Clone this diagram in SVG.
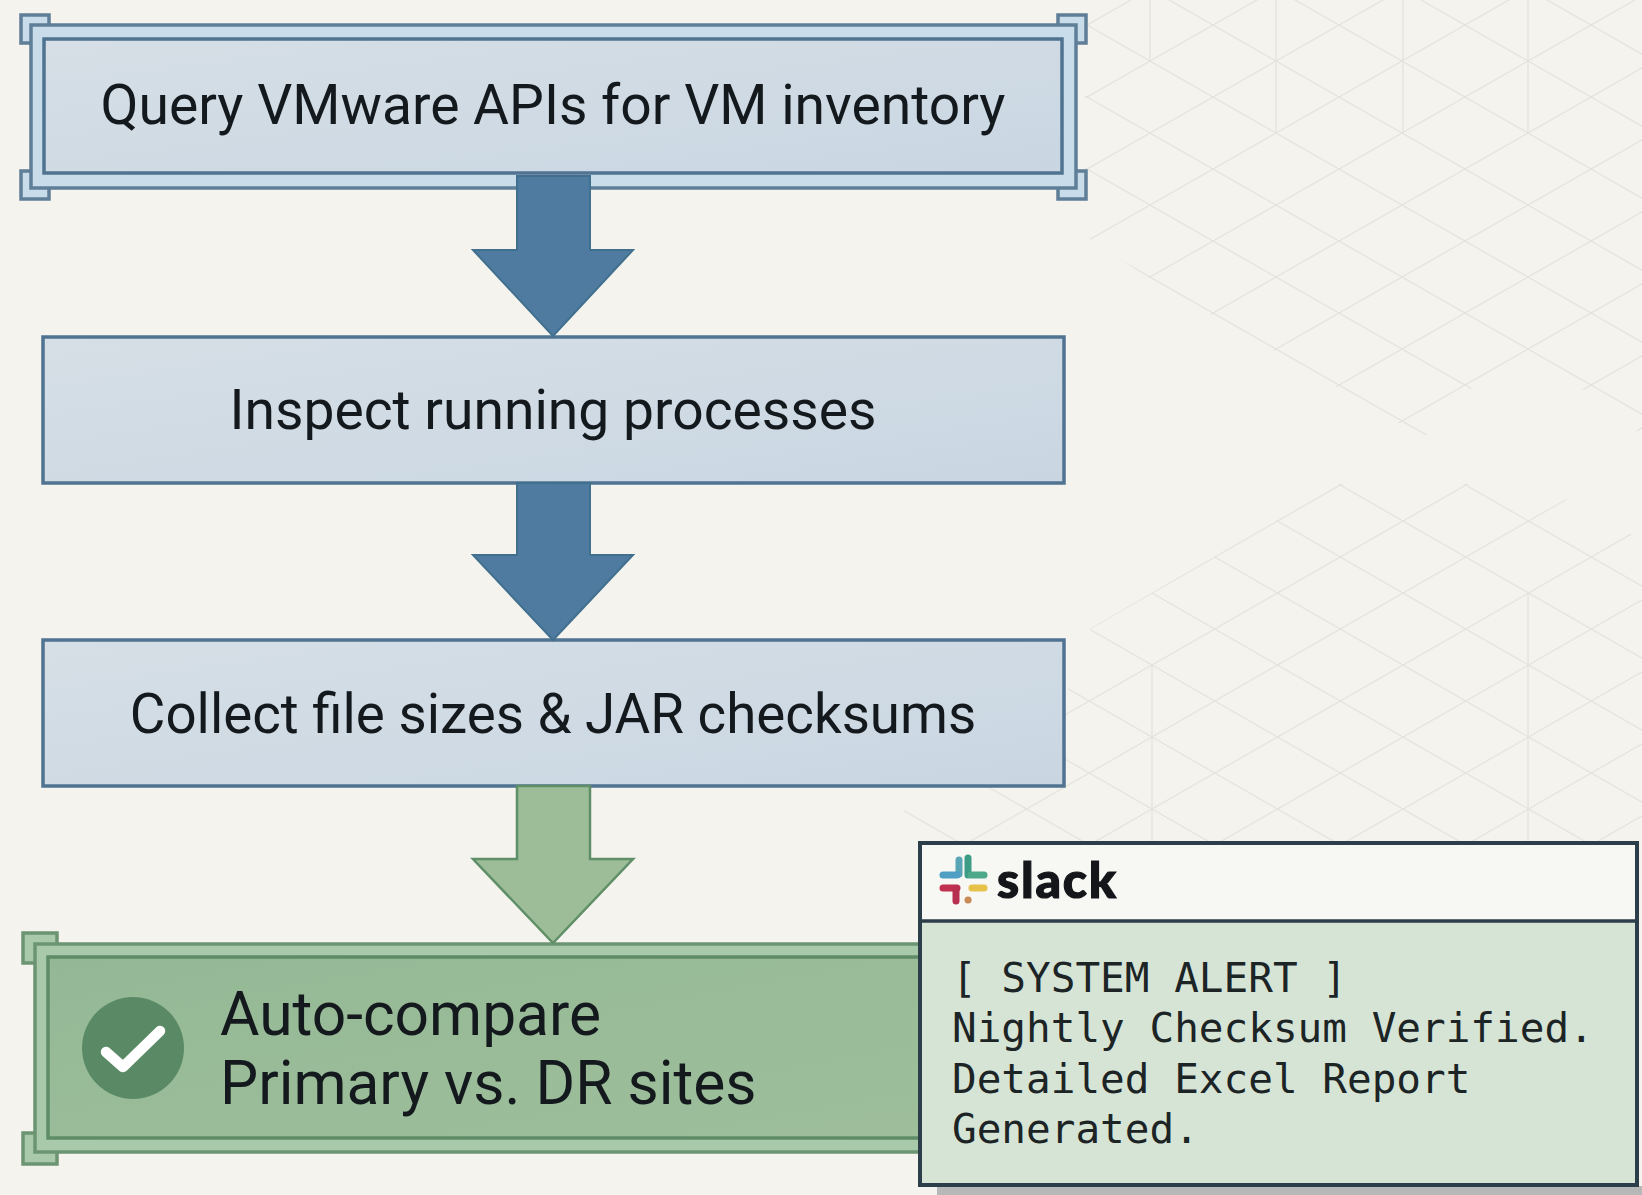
<svg xmlns="http://www.w3.org/2000/svg" width="1642" height="1195" viewBox="0 0 1642 1195">
<style>
.lbl{font-family:Roboto,"Liberation Sans",sans-serif;font-size:55.2px;fill:#14191d}
.big{font-size:60.5px}
.mid{font-size:54.7px}
.mono{font-family:"DejaVu Sans Mono","Liberation Mono",monospace;font-size:41px;fill:#1c2426}
.bb{fill:#c9dcea;stroke:#5f7e97;stroke-width:3.5}
.bi{fill:url(#bg);stroke:#4f7390;stroke-width:3.5}
.gb{fill:#a9c9ab;stroke:#6b9572;stroke-width:3.5}
.gi{fill:url(#gg);stroke:#5d8c66;stroke-width:3.5}
.ba{fill:#4f7ba0;stroke:#41708f;stroke-width:2}
.ga{fill:#9dbd98;stroke:#5f8f67;stroke-width:2.5}
.grid{fill:none;stroke:#e4e4de;stroke-width:1.3}
</style>
<defs>
<linearGradient id="bg" x1="0" y1="0" x2="1" y2="1"><stop offset="0" stop-color="#d6dfe6"/><stop offset="1" stop-color="#c9d6e2"/></linearGradient>
<linearGradient id="gg" x1="0" y1="0" x2="1" y2="1"><stop offset="0" stop-color="#94b895"/><stop offset="1" stop-color="#9fbf9c"/></linearGradient>
<pattern id="p1" patternUnits="userSpaceOnUse" x="1150" y="61" width="126" height="72"><path class="grid" d="M0,0L126,72M0,72L126,0"/></pattern>
<pattern id="p2" patternUnits="userSpaceOnUse" x="1152" y="665" width="125.5" height="72"><path class="grid" d="M0,0L125.5,72M0,72L125.5,0"/></pattern>
<clipPath id="c1"><polygon points="1085,0 1642,0 1642,440 1623,407 1592,390 1475,385 1424,438 1342,390 1217,318 1152,280 1094,242 1085,236"/></clipPath>
<clipPath id="c2"><polygon points="1091,628 1341,483 1403,519 1466,483 1528,520 1566,499 1642,540 1642,842 850,843 940,790 1064,700"/></clipPath>
</defs>
<rect width="1642" height="1195" fill="#f4f3ee"/>
<g id="background-grid">
<rect x="1085" width="557" height="445" fill="url(#p1)" clip-path="url(#c1)"/>
<rect x="850" y="480" width="792" height="365" fill="url(#p2)" clip-path="url(#c2)"/>
<path class="grid" d="M1150,0V61M1276,0V134M1403,0V134M1528,0V134M1152,665V842M1528,593V842"/>
</g>
<g id="node-query">
<rect class="bb" x="21" y="15" width="28" height="28"/><rect class="bb" x="1058" y="15" width="28" height="28"/><rect class="bb" x="21" y="171" width="28" height="28"/><rect class="bb" x="1058" y="171" width="28" height="28"/>
<rect class="bb" x="31" y="25" width="1045" height="163"/>
<rect class="bi" x="44" y="39" width="1018" height="134"/>
<text class="lbl" x="553" y="124" text-anchor="middle">Query VMware APIs for VM inventory</text>
</g>
<g id="node-inspect">
<rect class="bi" x="43" y="337" width="1021" height="146"/>
<text class="lbl" x="553" y="429" text-anchor="middle">Inspect running processes</text>
</g>
<g id="node-collect">
<rect class="bi" x="43" y="640" width="1021" height="146"/>
<text class="lbl mid" x="553" y="733" text-anchor="middle">Collect file sizes &amp; JAR checksums</text>
</g>
<g id="node-compare">
<rect class="gb" x="23" y="933" width="34" height="30"/><rect class="gb" x="23" y="1133" width="34" height="31"/>
<rect class="gb" x="35" y="944" width="1000" height="208"/>
<rect class="gi" x="48" y="957" width="980" height="181"/>
<circle cx="133" cy="1048" r="51" fill="#5a8a65"/>
<polyline points="106,1052 123,1067 160,1031" fill="none" stroke="#fff" stroke-width="10.5" stroke-linecap="round" stroke-linejoin="round"/>
<text class="lbl big" x="220" y="1035">Auto-compare</text>
<text class="lbl big" x="220" y="1104">Primary vs. DR sites</text>
</g>
<g id="connectors">
<polygon class="ba" points="517,176 590,176 590,250 633,250 553,336 473,250 517,250"/>
<polygon class="ba" points="517,483 590,483 590,555 633,555 553,640 473,555 517,555"/>
<polygon class="ga" points="517,786 590,786 590,859 633,859 553,943 473,859 517,859"/>
</g>
<g id="node-slack">
<rect x="937" y="1186" width="705" height="9" fill="#b5b8b6"/>
<rect x="920" y="843" width="717" height="342" fill="#d6e4d6" stroke="#2c3e4a" stroke-width="4"/>
<rect x="922" y="845" width="713" height="76" fill="#f7f7f4"/>
<path d="M920,921H1637" stroke="#2c3e4a" stroke-width="3.5"/>
<g fill="none" stroke-width="7" stroke-linecap="round">
<path d="M959,860V874" stroke="#5aa5b5"/><path d="M968,858V875" stroke="#3d9c85"/>
<path d="M943,875H957" stroke="#4f9fc4"/><path d="M971,875H984" stroke="#4ea88a"/>
<path d="M943,888H957" stroke="#c0304f"/><path d="M956,889V901" stroke="#b8304f"/>
<path d="M972,888H984" stroke="#e6c24a"/><path d="M968,900h.1" stroke="#c98a55"/>
</g>
<text x="997" y="898" style="font-family:Lato,'Liberation Sans',sans-serif;font-weight:900;font-size:50px;letter-spacing:1.8px;fill:#14161a;stroke:#14161a;stroke-width:1.2px">slack</text>
<text class="mono" x="952" y="992" xml:space="preserve">[ SYSTEM ALERT ]</text>
<text class="mono" x="952" y="1042">Nightly Checksum Verified.</text>
<text class="mono" x="952" y="1093">Detailed Excel Report</text>
<text class="mono" x="952" y="1143">Generated.</text>
</g>
</svg>
